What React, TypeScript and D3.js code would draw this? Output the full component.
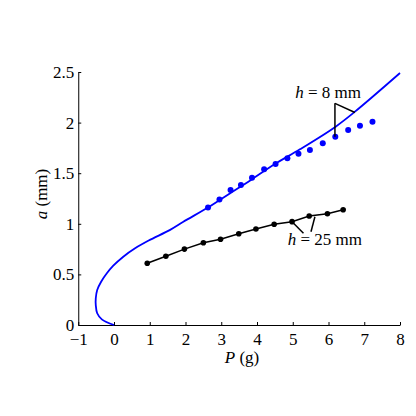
import { useEffect, useRef } from "react";
import * as d3 from "d3";

// theory curve (P in g, a in mm)
const curveP = [0, -0.34, -0.47, -0.51, -0.51, -0.47, -0.36, -0.2, -0.02, 0.26, 0.59, 0.97, 1.57, 1.94, 2.64, 3.24, 3.8, 4.5, 5.2, 6.2, 6.74, 8.0];
const curveA = [0, 0.056, 0.116, 0.198, 0.264, 0.346, 0.428, 0.511, 0.586, 0.675, 0.758, 0.835, 0.94, 1.02, 1.163, 1.3, 1.426, 1.591, 1.736, 1.96, 2.108, 2.49];

// h = 8 mm measurements
const thinP = [2.63, 2.95, 3.26, 3.55, 3.86, 4.2, 4.52, 4.85, 5.16, 5.48, 5.84, 6.19, 6.55, 6.88, 7.23];
const thinA = [1.161, 1.24, 1.334, 1.383, 1.456, 1.539, 1.591, 1.647, 1.693, 1.729, 1.795, 1.861, 1.927, 1.969, 2.009];

// h = 25 mm measurements
const thickP = [0.93, 1.45, 1.97, 2.5, 2.98, 3.49, 3.97, 4.48, 4.98, 5.46, 5.97, 6.41];
const thickA = [0.61, 0.68, 0.75, 0.813, 0.847, 0.902, 0.949, 0.995, 1.021, 1.077, 1.1, 1.139];

const xTicks = [-1, 0, 1, 2, 3, 4, 5, 6, 7, 8];
const yTicks = [0, 0.5, 1, 1.5, 2, 2.5];

// annotation leaders [P1, a1, P2, a2]
const leaders8 = [
  [6.18, 2.19, 6.18, 1.86],
  [6.18, 2.19, 6.74, 2.1],
];
const leaders25 = [
  [4.98, 1.021, 5.3, 0.906],
  [5.62, 1.07, 5.51, 0.922],
];

const W = 416;
const H = 416;
const FONT = "Liberation Serif, DejaVu Serif, serif";

export default function App() {
  const ref = useRef<SVGSVGElement>(null);

  useEffect(() => {
    const svg = d3.select(ref.current);
    svg.selectAll("*").remove();

    const x = d3.scaleLinear().domain([-1, 8]).range([78.25, 400]);
    const y = d3.scaleLinear().domain([0, 2.5]).range([325, 72]);

    svg.append("rect").attr("width", W).attr("height", H).attr("fill", "#fff");

    const xAxis = svg
      .append("g")
      .attr("transform", `translate(0,${y(0)})`)
      .call(
        d3
          .axisBottom(x)
          .tickValues(xTicks)
          .tickSizeInner(-3)
          .tickSizeOuter(0)
          .tickPadding(8)
          .tickFormat((d) => String(d).replace("-", "\u2212"))
      );
    const yAxis = svg
      .append("g")
      .attr("transform", `translate(${x(-1)},0)`)
      .call(
        d3
          .axisLeft(y)
          .tickValues(yTicks)
          .tickSizeInner(-3)
          .tickSizeOuter(0)
          .tickPadding(4)
          .tickFormat((d) => String(d))
      );
    [xAxis, yAxis].forEach((g) => {
      g.attr("font-family", FONT).attr("font-size", 17);
      g.selectAll("path,line").attr("stroke", "#000").attr("stroke-width", 1);
      g.selectAll("text").attr("fill", "#000");
    });

    // theory curve
    const line = d3
      .line<number>()
      .x((_, i) => x(curveP[i]))
      .y((_, i) => y(curveA[i]))
      .curve(d3.curveCatmullRom.alpha(0.5));
    svg
      .append("path")
      .attr("d", line(curveP))
      .attr("fill", "none")
      .attr("stroke", "#0000ff")
      .attr("stroke-width", 1.8);

    // h = 8 mm dots
    svg
      .append("g")
      .selectAll("circle")
      .data(thinP)
      .join("circle")
      .attr("cx", (d) => x(d))
      .attr("cy", (_, i) => y(thinA[i]))
      .attr("r", 3)
      .attr("fill", "#0000ff");

    // h = 25 mm line + dots
    const thickLine = d3
      .line<number>()
      .x((d) => x(d))
      .y((_, i) => y(thickA[i]));
    svg
      .append("path")
      .attr("d", thickLine(thickP))
      .attr("fill", "none")
      .attr("stroke", "#000")
      .attr("stroke-width", 1.5);
    svg
      .append("g")
      .selectAll("circle")
      .data(thickP)
      .join("circle")
      .attr("cx", (d) => x(d))
      .attr("cy", (_, i) => y(thickA[i]))
      .attr("r", 2.8)
      .attr("fill", "#000");

    // leaders
    svg
      .append("g")
      .selectAll("line")
      .data([...leaders8, ...leaders25])
      .join("line")
      .attr("x1", (d) => x(d[0]))
      .attr("y1", (d) => y(d[1]))
      .attr("x2", (d) => x(d[2]))
      .attr("y2", (d) => y(d[3]))
      .attr("stroke", "#000")
      .attr("stroke-width", 1.5);

    const label = (px: number, pa: number, val: string) => {
      const t = svg
        .append("text")
        .attr("x", x(px))
        .attr("y", y(pa))
        .attr("text-anchor", "middle")
        .attr("font-family", FONT)
        .attr("font-size", 17);
      t.append("tspan").attr("font-style", "italic").text("h");
      t.append("tspan").text(` = ${val} mm`);
    };
    label(5.99, 2.24, "8");
    label(5.9, 0.795, "25");

    // axis labels
    const xl = svg
      .append("text")
      .attr("x", 242)
      .attr("y", 363)
      .attr("text-anchor", "middle")
      .attr("font-family", FONT)
      .attr("font-size", 17);
    xl.append("tspan").attr("font-style", "italic").text("P");
    xl.append("tspan").text(" (g)");

    const yl = svg
      .append("text")
      .attr("transform", "translate(47,194) rotate(-90)")
      .attr("text-anchor", "middle")
      .attr("font-family", FONT)
      .attr("font-size", 17);
    yl.append("tspan").attr("font-style", "italic").text("a");
    yl.append("tspan").text(" (mm)");
  }, []);

  return (
    <svg
      ref={ref}
      width={W}
      height={H}
      style={{ position: "absolute", left: 0, top: 0, display: "block" }}
    />
  );
}
